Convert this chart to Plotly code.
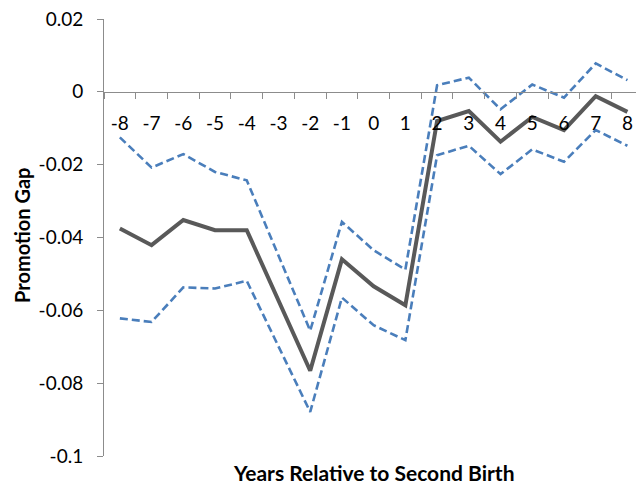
import plotly.graph_objects as go

years = ["-8", "-7", "-6", "-5", "-4", "-3", "-2", "-1", "0", "1", "2", "3", "4", "5", "6", "7", "8"]
gap = [-0.0375, -0.0421, -0.0352, -0.0380, -0.0380, -0.0573, -0.0766, -0.0460, -0.0534, -0.0586,
       -0.0080, -0.0053, -0.0137, -0.0069, -0.0105, -0.0012, -0.0055]
upper = [-0.0125, -0.0208, -0.0171, -0.0220, -0.0243, -0.0450, -0.0656, -0.0357, -0.0435, -0.0488,
         0.0018, 0.0039, -0.0048, 0.0020, -0.0016, 0.0078, 0.0032]
lower = [-0.0622, -0.0632, -0.0537, -0.0540, -0.0519, -0.0700, -0.0879, -0.0565, -0.0641, -0.0682,
         -0.0174, -0.0148, -0.0226, -0.0158, -0.0192, -0.0105, -0.0148]
y_ticks = [0.02, 0, -0.02, -0.04, -0.06, -0.08, -0.1]
y_tick_text = ["0.02", "0", "-0.02", "-0.04", "-0.06", "-0.08", "-0.1"]

FONT = "Lato"
blue = "#4a7ebb"
dark = "#595959"

fig = go.Figure()
fig.add_trace(go.Scatter(x=years, y=upper, mode="lines",
                         line=dict(color=blue, width=2.6, dash="8px,4px"), showlegend=False))
fig.add_trace(go.Scatter(x=years, y=lower, mode="lines",
                         line=dict(color=blue, width=2.6, dash="8px,4px"), showlegend=False))
fig.add_trace(go.Scatter(x=years, y=gap, mode="lines",
                         line=dict(color=dark, width=4), showlegend=False))

ymin, ymax = -0.1, 0.02
fig.update_layout(
    width=636, height=488,
    margin=dict(l=104, r=0, t=19, b=32),
    paper_bgcolor="white", plot_bgcolor="white",
    font=dict(family=FONT, size=19, color="#000000"),
    xaxis=dict(
        type="category", categoryorder="array", categoryarray=years,
        range=[-0.5, 16.27],
        anchor="free", position=(0 - ymin) / (ymax - ymin),
        showline=True, linecolor="#8c8c8c", linewidth=1,
        ticks="outside", ticklen=6, tickcolor="#8c8c8c", tickson="boundaries",
        showgrid=False, zeroline=False,
        tickfont=dict(family=FONT, size=19, color="#000000"),
        ticklabelstandoff=14,
    ),
    yaxis=dict(
        range=[ymin, ymax], tickvals=y_ticks, ticktext=y_tick_text,
        showline=True, linecolor="#8c8c8c", linewidth=1,
        ticks="outside", ticklen=6, tickcolor="#8c8c8c",
        showgrid=False, zeroline=False,
        tickfont=dict(family=FONT, size=19, color="#000000"),
        ticklabelstandoff=10,
    ),
    annotations=[
        dict(text="<b>Years Relative to Second Birth</b>", xref="paper", yref="paper",
             x=(374 - 104) / 532, y=-16 / 437, xanchor="center", yanchor="middle",
             showarrow=False, font=dict(family=FONT, size=21, color="#000000")),
        dict(text="<b>Promotion Gap</b>", xref="paper", yref="paper",
             x=(22 - 104) / 532, y=(456 - 236) / 437, xanchor="center", yanchor="middle",
             textangle=-90, showarrow=False, font=dict(family=FONT, size=20, color="#000000")),
    ],
)

fig.write_html("out.html")
